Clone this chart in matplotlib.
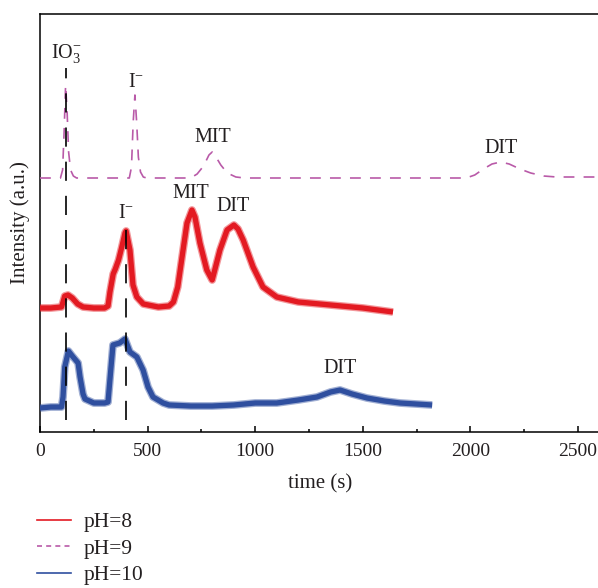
import matplotlib
matplotlib.use("Agg")
import matplotlib.pyplot as plt
from matplotlib.lines import Line2D

plt.rcParams["font.family"] = ["Liberation Serif", "DejaVu Serif"]
plt.rcParams["mathtext.fontset"] = "custom"
plt.rcParams["mathtext.rm"] = "Liberation Serif"
plt.rcParams["mathtext.it"] = "Liberation Serif:italic"

# ---- chromatogram traces (time in s, intensity in a.u. with vertical offsets) ----
t_ph8 = [0, 50, 100, 107, 115, 130, 150, 175, 200, 250, 300, 316, 325, 340, 350,
         365, 380, 395, 400, 418, 432, 450, 480, 550, 600, 620, 640, 660, 683, 706,
         720, 743, 775, 800, 836, 869, 901, 920, 944, 990, 1036, 1100, 1200, 1300,
         1400, 1500, 1640]
i_ph8 = [124, 124, 125, 130, 136, 137, 134, 128, 125, 124, 124, 126, 140, 158, 163,
         172, 185, 199, 201, 182, 147, 135, 128, 125, 126, 130, 145, 175, 209, 222,
         215, 189, 162, 152, 182, 202, 207, 203, 192, 165, 145, 135, 130, 128,
         126, 124, 120]

t_ph9 = [0, 95, 105, 112, 119, 126, 133, 142, 155, 170, 415, 425, 433, 441, 449,
         457, 467, 480, 495, 700, 730, 760, 785, 800, 815, 840, 870, 910, 950,
         1980, 2020, 2060, 2100, 2140, 2180, 2230, 2280, 2340, 2400, 2600]
i_ph9 = [254, 254, 262, 300, 347, 320, 280, 262, 256, 254, 254, 265, 310, 337, 310,
         275, 260, 255, 254, 254, 258, 266, 277, 280, 276, 267, 259, 255, 254,
         254, 257, 263, 268, 270, 268, 263, 259, 256, 255, 255]

t_ph10 = [0, 50, 100, 107, 115, 132, 150, 177, 186, 200, 209, 250, 300, 316, 328,
          339, 370, 395, 418, 450, 479, 502, 525, 572, 600, 700, 800, 900, 1000,
          1100, 1200, 1287, 1350, 1394, 1450, 1519, 1600, 1673, 1822]
i_ph10 = [24, 25, 25, 35, 65, 81, 76, 69, 55, 38, 33, 29, 29, 30, 60,
          87, 89, 93, 80, 75, 62, 45, 35, 29, 27, 26, 26, 27, 29,
          29, 32, 35, 40, 42, 38, 34, 31, 29, 27]

# reference retention times marked with dashed guides
guide_times = [121, 400]
guide_bottom = [12, 12]
guide_top = [364, 204]

# peak labels: (text, time, baseline intensity)
peak_labels = [
    (r"IO$_{3}^{\mathrm{-}}$", 121, 374),
    (r"I$^{\mathrm{-}}$", 446, 345),
    ("MIT", 802, 290),
    ("DIT", 2142, 279),
    (r"I$^{\mathrm{-}}$", 400, 214),
    ("MIT", 702, 234),
    ("DIT", 897, 221),
    ("DIT", 1392, 59),
]

series_names = ["pH=8", "pH=9", "pH=10"]
c_red = "#e31a22"
c_mag = "#b95aa8"
c_blue = "#2f4f9f"
txt = "#231f20"

fig = plt.figure(figsize=(5.98, 5.88), dpi=100)
ax = fig.add_axes([40 / 598, (588 - 432) / 588, 559.6 / 598, 418 / 588])


def noisy_band(t, y, color):
    # soft outer halo plus solid core, giving the thick band look of a noisy trace
    ax.plot(t, y, color=color, lw=5.6, alpha=0.45, solid_joinstyle="round",
            solid_capstyle="butt", zorder=3)
    ax.plot(t, y, color=color, lw=3.8, solid_joinstyle="round",
            solid_capstyle="butt", zorder=3)


noisy_band(t_ph8, i_ph8, c_red)
noisy_band(t_ph10, i_ph10, c_blue)
l9, = ax.plot(t_ph9, i_ph9, color=c_mag, lw=1.2, zorder=3)
l9.set_dashes([6.5, 5.5])

for tg, yb, yt in zip(guide_times, guide_bottom, guide_top):
    g, = ax.plot([tg, tg], [yb, yt], color="black", lw=1.2, zorder=4)
    g.set_dashes([11.5, 9])

for s, tx, ty in peak_labels:
    ax.text(tx, ty, s, ha="center", va="baseline", fontsize=14.5, color=txt, zorder=5)

ax.set_xlim(0, 2600)
ax.set_ylim(0, 418)
ax.set_xticks([0, 500, 1000, 1500, 2000, 2500])
ax.set_xticks([250, 750, 1250, 1750, 2250], minor=True)
ax.set_yticks([])
ax.tick_params(axis="x", which="major", direction="in", length=4.5, width=1.1,
               labelsize=14, pad=8, labelcolor=txt)
ax.tick_params(axis="x", which="minor", direction="in", length=2.5, width=1.1)
for sp in ax.spines.values():
    sp.set_linewidth(1.1)
ax.set_xlabel("time (s)", fontsize=15, color=txt, labelpad=10)
ax.set_ylabel("Intensity (a.u.)", fontsize=15, color=txt, labelpad=7)

handles = [
    Line2D([], [], color=c_red, lw=1.2),
    Line2D([], [], color=c_mag, lw=1.2, dashes=[3, 2.5]),
    Line2D([], [], color=c_blue, lw=1.2),
]
leg = fig.legend(handles, series_names, loc="upper left",
                 bbox_to_anchor=(37 / 598, (588 - 512) / 588), frameon=False,
                 fontsize=15.5, handlelength=1.6, handletextpad=0.55,
                 labelspacing=0.3, borderpad=0, borderaxespad=0)
for t in leg.get_texts():
    t.set_color(txt)

fig.savefig("out.png", dpi=100)
